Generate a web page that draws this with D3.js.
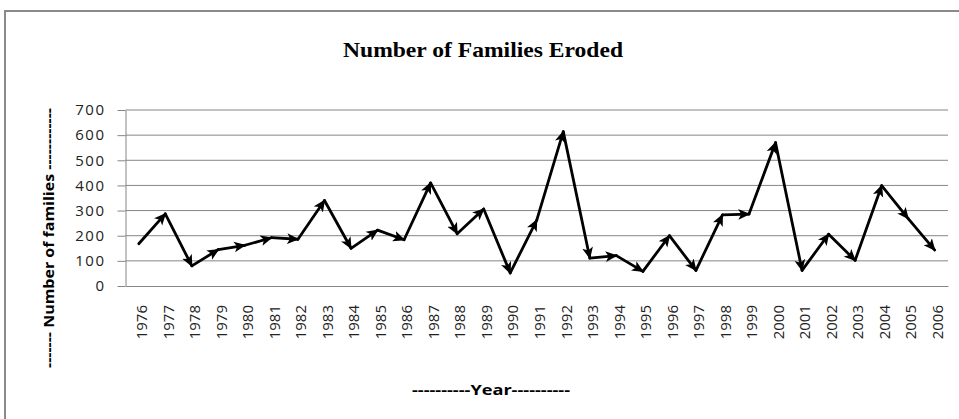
<!DOCTYPE html>
<html>
<head>
<meta charset="utf-8">
<script src="https://cdn.jsdelivr.net/npm/d3@7"></script>
<style>
  body { margin: 0; background: #fff; overflow: hidden; }
  svg { display: block; }
</style>
</head>
<body>
<script>
// data
var years = ["1976", "1977", "1978", "1979", "1980", "1981", "1982", "1983", "1984", "1985",
  "1986", "1987", "1988", "1989", "1990", "1991", "1992", "1993", "1994", "1995",
  "1996", "1997", "1998", "1999", "2000", "2001", "2002", "2003", "2004", "2005", "2006"];
var families = [168, 287, 80, 145, 162, 192, 186, 340, 150, 222,
  184, 410, 208, 306, 52, 262, 614, 111, 121, 58,
  200, 62, 283, 286, 570, 62, 206, 102, 399, 268, 143];
var yTicks = [0, 100, 200, 300, 400, 500, 600, 700];

var W = 959, H = 419;
var margin = { top: 110, right: 11, bottom: 133, left: 125.5 };
var width = W - margin.left - margin.right,
  height = H - margin.top - margin.bottom;

var svg = d3.select("body").append("svg")
  .attr("width", W)
  .attr("height", H);

// outer chart frame, only top and left edges are in view
svg.append("path")
  .attr("d", `M5,${H} L5,11 L${W},11`)
  .attr("fill", "none")
  .attr("stroke", "#8a8a8a")
  .attr("stroke-width", 2);

var defs = svg.append("defs");
defs.append("marker")
  .attr("id", "arrow")
  .attr("viewBox", "0 0 10 10")
  .attr("refX", 9)
  .attr("refY", 5)
  .attr("markerUnits", "userSpaceOnUse")
  .attr("markerWidth", 12)
  .attr("markerHeight", 12)
  .attr("orient", "auto")
  .append("path")
  .attr("d", "M0,0.5 L10,5 L0,9.5 L2.5,5 Z")
  .attr("fill", "#000");

var g = svg.append("g")
  .attr("transform", `translate(${margin.left},${margin.top})`);

var x = d3.scaleBand()
  .domain(years)
  .range([0, width]);

var y = d3.scaleLinear()
  .domain([0, 700])
  .range([height, 0]);

// gridlines
g.append("g")
  .selectAll("line")
  .data(yTicks.slice(1))
  .enter().append("line")
  .attr("x1", 0).attr("x2", width)
  .attr("y1", function (d) { return y(d); })
  .attr("y2", function (d) { return y(d); })
  .attr("stroke", "#868686")
  .attr("stroke-width", 1);

// y axis
var yAxis = g.append("g")
  .call(d3.axisLeft(y).tickValues(yTicks).tickSize(8).tickSizeOuter(0).tickPadding(12));
yAxis.select(".domain").attr("stroke", "#868686");
yAxis.selectAll(".tick line").attr("stroke", "#868686");
yAxis.selectAll("text")
  .attr("font-family", "'Open Sans', sans-serif")
  .attr("font-size", 15)
  .attr("letter-spacing", 1.5)
  .attr("fill", "#222");

// x axis
var xAxis = g.append("g")
  .attr("transform", `translate(0,${height})`)
  .call(d3.axisBottom(x).tickSize(0).tickSizeOuter(0));
xAxis.select(".domain").attr("stroke", "#868686");
xAxis.selectAll("text")
  .attr("font-family", "'Open Sans', sans-serif")
  .attr("font-size", 15)
  .attr("fill", "#222")
  .attr("text-anchor", "end")
  .attr("dy", "0.35em")
  .attr("transform", "translate(0,19) rotate(-90)");

// line segments, each ending in an arrowhead
var pts = families.map(function (v, i) { return [x(years[i]) + x.bandwidth() / 2, y(v)]; });
var segs = d3.pairs(pts);
g.append("g")
  .selectAll("line")
  .data(segs)
  .enter().append("line")
  .attr("x1", function (d) { return d[0][0]; })
  .attr("y1", function (d) { return d[0][1]; })
  .attr("x2", function (d) { return d[1][0]; })
  .attr("y2", function (d) { return d[1][1]; })
  .attr("stroke", "#000")
  .attr("stroke-width", 2.8)
  .attr("stroke-linecap", "round")
  .attr("marker-end", "url(#arrow)");

// titles
svg.append("text")
  .attr("x", 483)
  .attr("y", 57)
  .attr("text-anchor", "middle")
  .attr("font-family", "'Liberation Serif', serif")
  .attr("font-weight", "bold")
  .attr("font-size", 22)
  .attr("textLength", 280)
  .attr("lengthAdjust", "spacingAndGlyphs")
  .text("Number of Families Eroded");

svg.append("text")
  .attr("transform", "translate(54,238) rotate(-90)")
  .attr("text-anchor", "middle")
  .attr("font-family", "'Open Sans', sans-serif")
  .attr("font-size", 15)
  .attr("font-weight", "bold")
  .attr("textLength", 260)
  .attr("lengthAdjust", "spacingAndGlyphs")
  .text("------- Number of families ------------");

svg.append("text")
  .attr("x", 491)
  .attr("y", 395)
  .attr("text-anchor", "middle")
  .attr("font-family", "'Open Sans', sans-serif")
  .attr("font-size", 14)
  .attr("font-weight", "bold")
  .attr("textLength", 158)
  .attr("lengthAdjust", "spacingAndGlyphs")
  .text("----------Year----------");
</script>
</body>
</html>
